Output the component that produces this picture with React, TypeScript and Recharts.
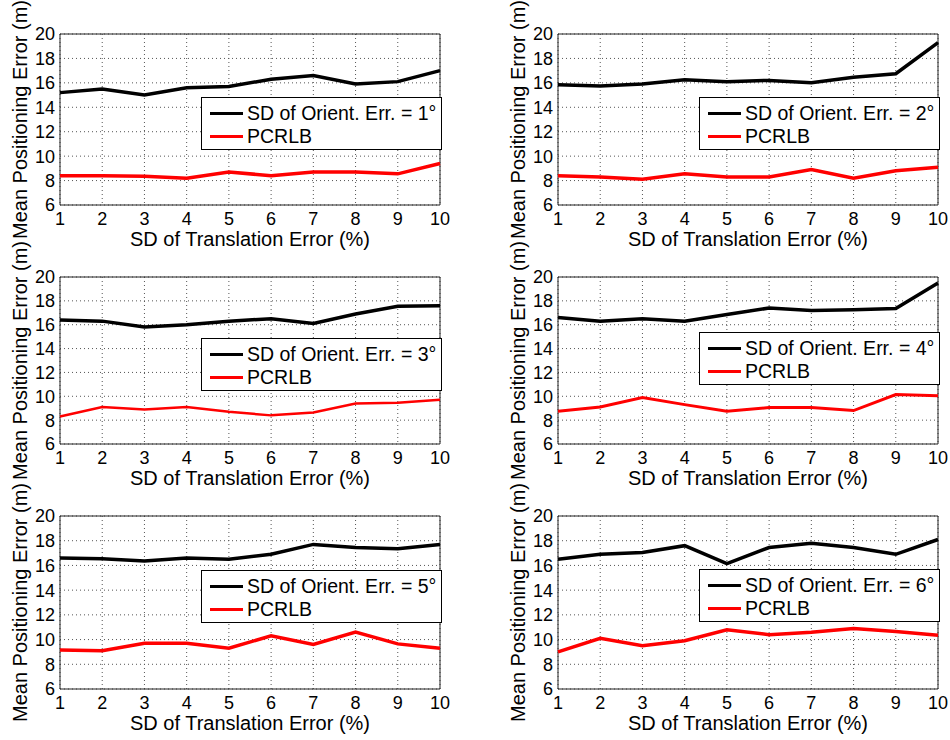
import { LineChart, Line, XAxis, YAxis, CartesianGrid, Legend, ReferenceArea } from 'recharts';

const X_VALUES = [1, 2, 3, 4, 5, 6, 7, 8, 9, 10];
const Y_TICKS = [6, 8, 10, 12, 14, 16, 18, 20];

// mean positioning error for each SD of orientation error (deg)
const ERR_1DEG = [15.2, 15.5, 15.0, 15.6, 15.7, 16.3, 16.6, 15.9, 16.1, 17.0];
const ERR_2DEG = [15.85, 15.75, 15.9, 16.25, 16.1, 16.2, 16.0, 16.45, 16.75, 19.3];
const ERR_3DEG = [16.4, 16.3, 15.8, 16.0, 16.3, 16.5, 16.1, 16.9, 17.55, 17.6];
const ERR_4DEG = [16.6, 16.3, 16.5, 16.3, 16.85, 17.4, 17.2, 17.25, 17.35, 19.5];
const ERR_5DEG = [16.6, 16.55, 16.35, 16.6, 16.5, 16.9, 17.7, 17.45, 17.35, 17.7];
const ERR_6DEG = [16.5, 16.9, 17.05, 17.6, 16.15, 17.45, 17.8, 17.45, 16.9, 18.1];

// PCRLB for the same panels
const CRLB_1DEG = [8.4, 8.4, 8.35, 8.2, 8.7, 8.4, 8.7, 8.7, 8.55, 9.4];
const CRLB_2DEG = [8.4, 8.3, 8.1, 8.55, 8.3, 8.3, 8.9, 8.2, 8.8, 9.1];
const CRLB_3DEG = [8.3, 9.1, 8.9, 9.1, 8.7, 8.4, 8.65, 9.4, 9.45, 9.7];
const CRLB_4DEG = [8.75, 9.1, 9.9, 9.3, 8.75, 9.05, 9.05, 8.8, 10.15, 10.05];
const CRLB_5DEG = [9.15, 9.1, 9.7, 9.7, 9.3, 10.3, 9.6, 10.6, 9.65, 9.3];
const CRLB_6DEG = [9.0, 10.1, 9.5, 9.9, 10.8, 10.4, 10.6, 10.9, 10.65, 10.35];

const FONT = '"Liberation Sans", Arial, sans-serif';

// plotTop = page y of the plot box top; pad = extra room above it so the y label isn't clipped
const PANELS = [
  { deg: 1, err: ERR_1DEG, crlb: CRLB_1DEG, left: 0, plotTop: 34, pad: 34, plotH: 171, legendTop: 63, redW: 3.5 },
  { deg: 2, err: ERR_2DEG, crlb: CRLB_2DEG, left: 498, plotTop: 34, pad: 34, plotH: 171, legendTop: 63, redW: 3.5 },
  { deg: 3, err: ERR_3DEG, crlb: CRLB_3DEG, left: 0, plotTop: 277, pad: 50, plotH: 167, legendTop: 61, redW: 2.5 },
  { deg: 4, err: ERR_4DEG, crlb: CRLB_4DEG, left: 498, plotTop: 277, pad: 50, plotH: 167, legendTop: 55, redW: 3 },
  { deg: 5, err: ERR_5DEG, crlb: CRLB_5DEG, left: 0, plotTop: 516, pad: 50, plotH: 173, legendTop: 54, redW: 3.5 },
  { deg: 6, err: ERR_6DEG, crlb: CRLB_6DEG, left: 498, plotTop: 516, pad: 50, plotH: 173, legendTop: 53, redW: 3.5 },
];

function renderLegend(props: any) {
  // keep the series order (black first), not alphabetical
  const items = [...(props.payload || [])].sort((a: any, b: any) =>
    a.dataKey === 'err' ? -1 : b.dataKey === 'err' ? 1 : 0,
  );
  return (
    <div
      style={{
        boxSizing: 'border-box',
        width: 241,
        height: 53,
        border: '1px solid #000',
        background: '#fff',
        paddingTop: 4,
        fontFamily: FONT,
      }}
    >
      {items.map((it: any) => (
        <div key={it.value} style={{ display: 'flex', alignItems: 'center', height: 23 }}>
          <div
            style={{
              marginLeft: 8,
              width: 33,
              height: it.payload?.strokeWidth ?? 3,
              background: it.color,
            }}
          />
          <span style={{ marginLeft: 4, fontSize: 19.5, lineHeight: '23px', color: '#000', whiteSpace: 'nowrap' }}>
            {it.value}
          </span>
        </div>
      ))}
    </div>
  );
}

function Panel({ p }: { p: (typeof PANELS)[number] }) {
  const rows = X_VALUES.map((x, i) => ({ x, err: p.err[i], crlb: p.crlb[i] }));
  const height = p.pad + p.plotH + 46;
  return (
    <div style={{ position: 'absolute', left: p.left, top: p.plotTop - p.pad }}>
      <LineChart width={450} height={height} data={rows} margin={{ top: p.pad, right: 10, bottom: 0, left: 0 }}>
        <CartesianGrid stroke="#555" strokeDasharray="1 3" />
        <XAxis
          dataKey="x"
          type="number"
          domain={[1, 10]}
          ticks={X_VALUES}
          interval={0}
          height={46}
          axisLine={false}
          tickLine={false}
          tickSize={4}
          tickMargin={3}
          tick={{ fontSize: 18, fill: '#000', fontFamily: FONT }}
          label={{
            value: 'SD of Translation Error (%)',
            position: 'insideBottom',
            offset: 5,
            style: { fontSize: 20, fill: '#000', fontFamily: FONT },
          }}
        />
        <YAxis
          type="number"
          domain={[6, 20]}
          ticks={Y_TICKS}
          interval={0}
          width={60}
          axisLine={false}
          tickLine={false}
          tickSize={3}
          tickMargin={2}
          tick={{ fontSize: 18, fill: '#000', fontFamily: FONT }}
          label={{
            value: 'Mean Positioning Error (m)',
            angle: -90,
            position: 'insideLeft',
            offset: 20,
            style: { textAnchor: 'middle', fontSize: 20, fill: '#000', fontFamily: FONT },
          }}
        />
        <ReferenceArea x1={1} x2={10} y1={6} y2={20} fill="none" stroke="#222" strokeWidth={1} />
        <Line
          dataKey="err"
          name={`SD of Orient. Err. = ${p.deg}°`}
          stroke="#000"
          strokeWidth={3.5}
          dot={false}
          isAnimationActive={false}
        />
        <Line
          dataKey="crlb"
          name="PCRLB"
          stroke="#ff0000"
          strokeWidth={p.redW}
          dot={false}
          isAnimationActive={false}
        />
        <Legend
          layout="horizontal"
          verticalAlign="middle"
          align="center"
          content={renderLegend}
          wrapperStyle={{ left: 201, top: p.pad + p.legendTop, width: 241, height: 53 }}
        />
      </LineChart>
    </div>
  );
}

export default function App() {
  return (
    <div
      style={{
        position: 'absolute',
        left: 0,
        top: 0,
        width: 950,
        height: 740,
        background: '#fff',
        fontFamily: FONT,
        overflow: 'hidden',
      }}
    >
      {PANELS.map((p) => (
        <Panel key={p.deg} p={p} />
      ))}
    </div>
  );
}
